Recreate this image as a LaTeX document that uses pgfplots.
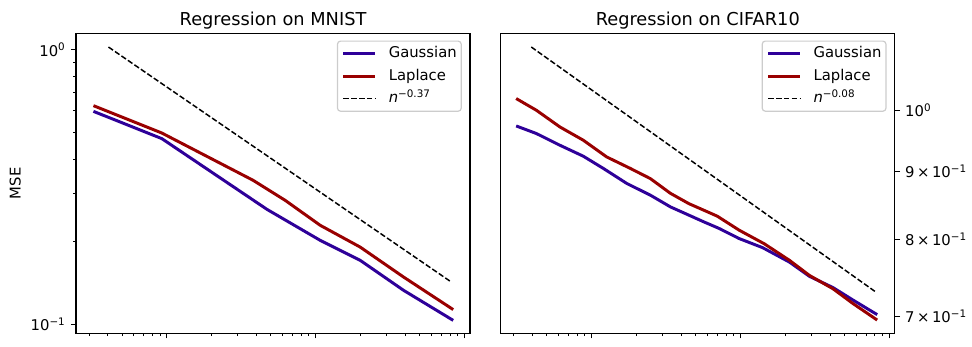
\documentclass[border=0pt]{standalone}
\usepackage{fontspec}
\setmainfont{DejaVu Sans}
\usepackage{pgfplots}
\pgfplotsset{compat=1.18}
\definecolor{gblue}{RGB}{46,0,153}
\definecolor{lred}{RGB}{153,0,0}
\definecolor{lgray}{RGB}{204,204,204}
\begin{document}
\begin{tikzpicture}
\begin{axis}[scale only axis, width=266pt, height=202.5pt,
  xmode=log, ymode=log,
  xmin=24.5, xmax=10900,
  xtick={10,100,1000,10000}, xticklabels={},
  tick align=outside, xtick pos=left,
  major tick length=3.5pt, minor tick length=2pt,
  every tick/.style={black, line width=0.8pt},
  every minor tick/.style={black, line width=0.6pt},
  axis line style={line width=0.8pt},
  title style={font=\fontsize{12}{14}\selectfont, yshift=-6.9pt},
  tick label style={font=\fontsize{10}{12}\selectfont},
  label style={font=\fontsize{10}{12}\selectfont},
  legend style={at={(1,1)}, anchor=north east, xshift=-5.6pt, yshift=-4.9pt,
    draw=lgray, line width=0.8pt, rounded corners=2pt, fill=white, fill opacity=0.8, text opacity=1,
    font=\fontsize{10}{12}\selectfont, inner xsep=3pt, inner ysep=3.2pt, row sep=4.7pt, column sep=8pt,
    nodes={inner sep=0pt, text height=8pt, text depth=2.5pt}},
  legend cell align=left,
  legend image code/.code={\draw[#1] (0pt,0pt) -- (21.6pt,0pt);},
  at={(51.3pt,8.6pt)}, anchor=south west,
  title={Regression on MNIST},
  ymin=0.093, ymax=1.147,
  ytick={0.1,1}, yticklabels={10\textsuperscript{−1},10\textsuperscript{0}},
  ytick pos=left,
  ylabel={MSE},
  every axis y label/.style={at={(axis description cs:-0.154,0.5)}, rotate=90, anchor=center},
]
\addplot[gblue, line width=2pt] coordinates {
(32.1,0.5965) (92.5,0.4746) (469.9,0.2626)
(1072,0.2025) (1991,0.1713) (3891,0.1333) (8395,0.1036)};
\addlegendentry{Gaussian}
\addplot[lred, line width=2pt] coordinates {
(32.1,0.6256) (92.5,0.4974) (380.2,0.3347) (623.7,0.2831) (1072,0.2297)
(1991,0.1914) (3891,0.149) (8395,0.1134)};
\addlegendentry{Laplace}
\addplot[black, line width=1pt, dash pattern=on 3.7pt off 1.6pt] coordinates {
(40.5,1.022) (8020,0.1437)};
\addlegendentry{\textit{n}\textsuperscript{−0.37}}
\end{axis}
\begin{axis}[scale only axis, width=266pt, height=202.5pt,
  xmode=log, ymode=log,
  xmin=24.5, xmax=10900,
  xtick={10,100,1000,10000}, xticklabels={},
  tick align=outside, xtick pos=left,
  major tick length=3.5pt, minor tick length=2pt,
  every tick/.style={black, line width=0.8pt},
  every minor tick/.style={black, line width=0.6pt},
  axis line style={line width=0.8pt},
  title style={font=\fontsize{12}{14}\selectfont, yshift=-6.9pt},
  tick label style={font=\fontsize{10}{12}\selectfont},
  label style={font=\fontsize{10}{12}\selectfont},
  legend style={at={(1,1)}, anchor=north east, xshift=-5.6pt, yshift=-4.9pt,
    draw=lgray, line width=0.8pt, rounded corners=2pt, fill=white, fill opacity=0.8, text opacity=1,
    font=\fontsize{10}{12}\selectfont, inner xsep=3pt, inner ysep=3.2pt, row sep=4.7pt, column sep=8pt,
    nodes={inner sep=0pt, text height=8pt, text depth=2.5pt}},
  legend cell align=left,
  legend image code/.code={\draw[#1] (0pt,0pt) -- (21.6pt,0pt);},
  at={(338pt,8.6pt)}, anchor=south west,
  title={Regression on CIFAR10},
  ymin=0.6797, ymax=1.1426,
  ytick={0.7,0.8,0.9,1},
  yticklabels={7\,×\,10\textsuperscript{−1},8\,×\,10\textsuperscript{−1},9\,×\,10\textsuperscript{−1},10\textsuperscript{0}},
  yminorticks=false,
  ytick pos=right, yticklabel pos=right,
]
\addplot[gblue, line width=2pt] coordinates {
(31.1,0.9732) (42.5,0.9605) (61.2,0.9412) (87.9,0.9235) (120.0,0.9041)
(172.4,0.8809) (248.1,0.8633) (338.6,0.8459) (450.3,0.8339) (568.5,0.8242)
(717.9,0.815) (979.9,0.8008) (1408,0.7885) (2134,0.7689) (2913,0.7501)
(4184,0.7357) (5713,0.7199) (8297,0.7020)};
\addlegendentry{Gaussian}
\addplot[lred, line width=2pt] coordinates {
(31.1,1.0205) (42.5,1.0) (61.2,0.9715) (87.9,0.9494) (126.3,0.9223)
(181.8,0.9042) (248.1,0.8884) (338.6,0.8660) (450.3,0.8507) (568.5,0.8410)
(699.1,0.8324) (979.9,0.8125) (1446,0.7937) (2134,0.7713) (2913,0.7513)
(4184,0.7342) (5713,0.7155) (8297,0.6954)};
\addlegendentry{Laplace}
\addplot[black, line width=1pt, dash pattern=on 3.7pt off 1.6pt] coordinates {
(39.3,1.1157) (8000,0.7309)};
\addlegendentry{\textit{n}\textsuperscript{−0.08}}
\end{axis}
\pgfresetboundingbox
\path[use as bounding box] (0,0) rectangle (656.1pt,233.55pt);
\end{tikzpicture}
\end{document}
